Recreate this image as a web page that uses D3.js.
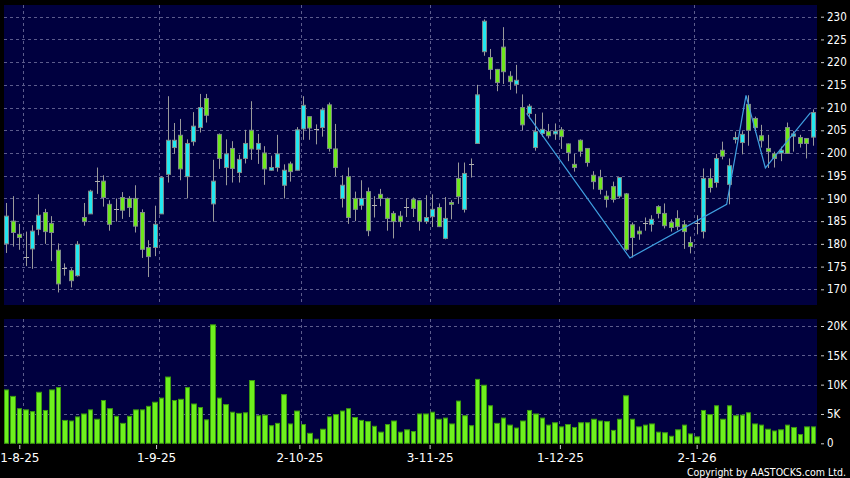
<!DOCTYPE html>
<html><head><meta charset="utf-8">
<script src="https://cdn.jsdelivr.net/npm/d3@7/dist/d3.min.js"></script>
<style>html,body{margin:0;padding:0;background:#000;}svg{display:block;}</style>
</head><body>
<svg id="chart" width="850" height="478"></svg>
<script>
// ---- data ----
const openP  = [180.0,185.0,182.1,177.2,178.9,183.2,186.9,184.5,178.6,174.7,174.1,173.0,185.8,186.6,193.8,193.8,188.7,187.7,190.2,190.0,
                190.0,186.9,179.2,179.2,186.6,195.3,201.2,203.9,194.8,202.5,205.6,212.0,188.8,204.1,196.8,201.0,195.7,198.8,205.0,200.8,
                200.0,196.2,196.8,192.9,197.6,196.2,205.3,208.0,205.3,205.6,210.6,200.9,190.0,194.8,190.0,188.5,191.5,188.5,190.9,190.0,
                186.7,186.1,188.2,189.8,189.5,184.9,186.0,188.0,181.2,189.1,194.4,187.6,197.5,202.1,222.3,221.0,218.4,223.3,216.9,215.1,
                210.0,208.7,201.2,204.3,204.7,204.2,205.1,202.0,197.5,202.8,201.0,195.1,194.6,190.5,192.6,190.5,191.0,184.2,182.8,184.6,
                184.3,188.2,186.7,184.7,185.6,184.2,180.3,184.6,182.7,194.4,193.5,200.6,193.1,203.0,202.3,210.7,207.6,203.8,201.0,199.8,
                200.0,205.6,203.7,203.4,203.2,203.5];
const highP  = [189.0,190.5,184.4,182.7,184.1,190.9,187.7,186.1,180.1,175.7,174.6,180.6,189.0,191.9,196.8,195.1,189.6,190.0,191.4,190.5,
                192.9,187.6,180.8,188.4,194.9,212.5,206.6,207.5,203.0,209.0,213.0,213.0,198.5,204.3,203.0,202.6,199.6,205.1,211.4,204.2,
                201.5,199.4,204.0,197.5,198.1,205.7,212.5,208.0,206.3,210.0,211.1,206.4,195.1,196.8,191.5,194.0,192.4,190.5,192.1,190.2,
                187.2,187.2,190.0,190.2,189.6,190.7,190.9,188.9,190.3,189.6,197.9,197.9,198.8,215.0,229.4,222.9,218.5,227.7,218.0,219.4,
                212.9,210.8,208.6,208.9,206.4,206.5,205.7,202.1,199.8,203.0,201.1,196.0,196.3,191.7,193.7,194.6,191.2,184.7,183.8,185.8,
                186.3,188.5,188.9,185.4,187.4,185.2,181.6,186.3,196.6,196.6,199.8,202.5,198.8,204.7,204.8,212.7,208.0,206.2,204.0,200.3,
                201.4,206.7,204.8,204.0,203.3,209.6];
const lowP   = [178.0,179.4,178.7,175.1,174.5,181.9,180.0,176.2,169.3,173.0,170.4,172.8,184.0,186.6,191.0,188.2,182.9,184.9,185.5,185.9,
                182.5,176.9,172.7,177.3,186.6,193.5,199.8,194.0,190.0,201.6,204.5,206.7,184.9,196.5,192.9,193.5,193.5,197.7,198.5,197.6,
                193.0,196.1,195.9,190.0,193.7,196.2,202.9,202.9,201.9,203.6,200.3,194.9,188.0,184.4,185.0,187.5,181.7,185.8,188.3,182.9,
                181.2,183.7,185.9,185.9,182.9,184.4,183.7,183.7,181.0,185.4,188.8,186.9,194.6,202.0,221.4,216.2,213.6,215.2,213.9,213.1,
                205.0,207.6,200.5,203.6,203.2,202.9,200.9,198.2,195.9,199.2,197.0,192.0,190.9,188.0,189.1,190.0,178.5,177.0,180.9,182.9,
                182.7,185.6,183.4,182.7,183.0,178.9,177.9,182.1,181.2,191.3,192.4,198.6,188.7,202.1,199.7,201.6,204.5,201.2,196.7,196.8,
                198.2,199.8,200.3,201.2,198.8,201.6];
const closeP = [186.1,182.5,181.4,177.2,182.8,186.3,182.7,182.5,171.2,174.7,171.9,179.9,184.9,191.6,193.8,190.2,184.3,187.7,187.4,188.0,
                183.9,178.8,177.2,184.3,194.6,202.8,202.8,196.5,202.1,205.9,210.0,208.3,193.8,198.8,199.8,196.6,198.6,202.1,200.9,202.1,
                196.5,196.8,199.8,196.2,195.9,205.1,210.5,205.5,205.3,209.5,201.0,196.8,192.9,185.8,187.6,190.0,182.9,188.5,190.0,185.6,
                184.9,184.9,188.2,187.8,184.9,185.8,187.6,183.8,185.6,188.7,190.4,195.5,197.5,212.8,229.0,218.4,215.5,217.9,215.7,216.0,
                206.2,210.3,204.7,205.2,203.8,204.8,203.6,200.1,196.8,200.4,197.9,193.7,192.0,189.8,189.8,194.6,178.8,181.4,182.2,184.6,
                185.4,186.7,184.0,183.6,183.8,182.7,179.4,184.6,194.4,192.4,198.8,199.3,197.2,203.4,204.1,205.0,205.6,202.7,200.3,198.8,
                200.6,199.9,204.2,202.1,202.1,208.9];
const volume = [9100,8000,5900,5700,5400,8700,5600,9100,9500,3900,3800,4500,5000,5700,4100,7300,5900,4600,3400,4600,
                5700,5700,6300,7000,7700,11300,7300,7500,9500,6700,6100,4000,20200,7700,6600,5300,5100,5200,10700,4700,
                4800,3000,3400,8300,3300,5500,3200,1700,700,2400,4500,4900,5500,5900,4400,3900,3700,2900,1900,3200,
                3800,1900,2300,2000,5000,5000,5300,4100,4300,3300,7200,4700,3000,10900,9900,6400,3400,4300,3100,2600,
                3800,5600,5000,4300,3100,3500,2800,3200,2700,3500,3500,4100,3800,3700,2200,4100,8100,4100,2800,3100,
                3300,1900,1800,1200,2300,3100,1600,1100,5600,4900,6400,4100,6400,4700,4800,5200,3300,3100,2400,2100,
                2300,3100,2700,1500,2800,2800];
const zigzagIdx = [81, 97, 112, 115, 118, 125];
const zigzagVal = [208.7, 176.9, 188.7, 212.7, 196.7, 208.9];
const priceTicks = [170,175,180,185,190,195,200,205,210,215,220,225,230];
const volTicks = [0,5000,10000,15000,20000];
const dateIdx = [3,24,46,66,86,107];
const dateLabels = ["1-8-25","1-9-25","2-10-25","3-11-25","1-12-25","2-1-26"];

// ---- layout ----
const W = 850, H = 478;
const L = 4, R = 817;
const pTop = 5, pBot = 305, vTop = 319, vBot = 443.3;
const C = {bg:"#000000", panel:"#00003f", grid:"#5c5c8c", up:"#22e8f0", down:"#6ee81c",
           outline:"#7f8a8a", wick:"#9a9a9a", vol:"#6ef01e", volEdge:"#3c9a10", zz:"#3f9fe0", text:"#ffffff"};

const svg = d3.select("#chart");
svg.append("rect").attr("width",W).attr("height",H).attr("fill",C.bg);

const n = closeP.length;
const x = d3.scaleBand().domain(d3.range(n)).range([L,R]).padding(0);
const xl = d3.scaleLinear().domain([0,n]).range([L,R]);
const xt = d3.scaleLinear().domain([0,n]).range([-0.24,820.4]);
const yP = d3.scaleLinear().domain([170,230]).range([289.3,16.7]);
const yV = d3.scaleLinear().domain([0,20000]).range([vBot,326]);
const crisp = v => Math.round(v)+0.5;

// panels
svg.append("rect").attr("x",L).attr("y",pTop).attr("width",R-L).attr("height",pBot-pTop).attr("fill",C.panel);
svg.append("rect").attr("x",L).attr("y",vTop).attr("width",R-L).attr("height",vBot-vTop).attr("fill",C.panel);

// grids
const g = svg.append("g").attr("stroke",C.grid).attr("stroke-width",1).attr("stroke-dasharray","3,3");
g.selectAll("line.hp").data(priceTicks).join("line")
  .attr("x1",L).attr("x2",R).attr("y1",d=>crisp(yP(d))).attr("y2",d=>crisp(yP(d)));
g.selectAll("line.hv").data(volTicks.filter(v=>v>0)).join("line").attr("class","hv")
  .attr("x1",L).attr("x2",R).attr("y1",d=>crisp(yV(d))).attr("y2",d=>crisp(yV(d)));
g.selectAll("line.vp").data(dateIdx).join("line").attr("class","vp")
  .attr("x1",d=>crisp(xl(d))).attr("x2",d=>crisp(xl(d))).attr("y1",pTop).attr("y2",pBot);
g.selectAll("line.vv").data(dateIdx).join("line").attr("class","vv")
  .attr("x1",d=>crisp(xl(d))).attr("x2",d=>crisp(xl(d))).attr("y1",vTop).attr("y2",vBot);

// candles
const idx = d3.range(n);
const cg = svg.append("g");
const bodyX = i => Math.floor(x(i)+x.bandwidth()/2-2.5)+0.5;
cg.selectAll("line.wick").data(idx).join("line").attr("class","wick")
  .attr("x1",i=>bodyX(i)+2).attr("x2",i=>bodyX(i)+2)
  .attr("y1",i=>yP(highP[i])).attr("y2",i=>yP(lowP[i]))
  .attr("stroke",C.wick).attr("stroke-width",1);
cg.selectAll("rect.body").data(idx.filter(i=>openP[i]!==closeP[i])).join("rect").attr("class","body")
  .attr("x",i=>bodyX(i)).attr("width",4)
  .attr("y",i=>yP(Math.max(openP[i],closeP[i])))
  .attr("height",i=>Math.max(1,Math.abs(yP(openP[i])-yP(closeP[i]))))
  .attr("fill",i=>closeP[i]>openP[i]?C.up:C.down)
  .attr("stroke",C.outline).attr("stroke-width",1);
cg.selectAll("line.doji").data(idx.filter(i=>openP[i]===closeP[i])).join("line").attr("class","doji")
  .attr("x1",i=>bodyX(i)-0.5).attr("x2",i=>bodyX(i)+4.5)
  .attr("y1",i=>crisp(yP(closeP[i]))).attr("y2",i=>crisp(yP(closeP[i])))
  .attr("stroke","#b0b0b0").attr("stroke-width",1);

// zigzag
svg.append("path").datum(zigzagIdx.map((d,k)=>[xl(d),yP(zigzagVal[k])]))
  .attr("d",d3.line()).attr("fill","none").attr("stroke",C.zz).attr("stroke-width",1.2);

// volume bars
svg.append("g").selectAll("rect").data(idx).join("rect")
  .attr("x",i=>Math.round(x(i))+0.5)
  .attr("width",i=>Math.round(x(i)+x.bandwidth())-Math.round(x(i))-2)
  .attr("y",i=>yV(volume[i]))
  .attr("height",i=>vBot-yV(volume[i]))
  .attr("fill",C.vol).attr("stroke",C.volEdge).attr("stroke-width",1);

// right axes
const axFont = "'DejaVu Sans Condensed','DejaVu Sans',sans-serif";
function styleAxis(sel){
  sel.select(".domain").remove();
  sel.selectAll(".tick line").attr("stroke","#cccccc");
  sel.selectAll(".tick text").attr("fill",C.text).style("font-family",axFont).style("font-size","11.5px").style("font-stretch","condensed");
}
svg.append("g").attr("transform","translate(821,0)")
  .call(d3.axisRight(yP).tickValues(priceTicks).tickSize(3).tickPadding(3).tickFormat(d3.format("d")))
  .call(styleAxis);
svg.append("g").attr("transform","translate(821,0)")
  .call(d3.axisRight(yV).tickValues(volTicks).tickSize(3).tickPadding(3).tickFormat(d=>d===0?"0":(d/1000)+"K"))
  .call(styleAxis);

// date axis
const dax = svg.append("g").attr("transform","translate(0,445)")
  .call(d3.axisBottom(xt).tickValues(dateIdx).tickSize(4).tickPadding(4).tickFormat((d,k)=>dateLabels[k]));
dax.select(".domain").remove();
dax.selectAll(".tick line").attr("stroke","#cccccc");
dax.selectAll(".tick text").attr("fill",C.text).style("font-family","'DejaVu Sans',sans-serif").style("font-size","12px");

// copyright
svg.append("text").attr("x",846).attr("y",475.5).attr("text-anchor","end")
  .attr("fill",C.text).style("font-family",axFont).style("font-size","10.5px").style("font-stretch","condensed")
  .text("Copyright by AASTOCKS.com Ltd.");
</script>
</body></html>
